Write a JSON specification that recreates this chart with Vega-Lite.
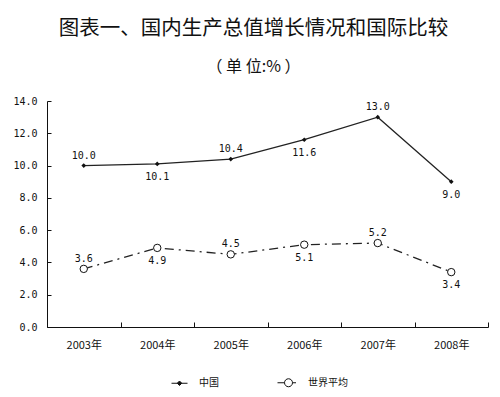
{
  "$schema": "https://vega.github.io/schema/vega-lite/v6.json",
  "width": 441,
  "height": 226,
  "autosize": "none",
  "padding": {"left": 47, "top": 101, "right": 12, "bottom": 70},
  "background": "white",
  "title": {
    "text": "图表一、国内生产总值增长情况和国际比较",
    "subtitle": "（ 单 位:% ）",
    "font": "Noto Sans CJK SC",
    "fontSize": 20.5,
    "fontWeight": "normal",
    "color": "#111",
    "subtitleFont": "Noto Sans CJK SC",
    "subtitleFontSize": 16,
    "subtitleColor": "#111",
    "subtitlePadding": 20,
    "offset": 21,
    "anchor": "middle",
    "dx": -14
  },
  "data": {
    "values": [
      {"year": "2003年", "series": "中国", "value": 10.0},
      {"year": "2004年", "series": "中国", "value": 10.1},
      {"year": "2005年", "series": "中国", "value": 10.4},
      {"year": "2006年", "series": "中国", "value": 11.6},
      {"year": "2007年", "series": "中国", "value": 13.0},
      {"year": "2008年", "series": "中国", "value": 9.0},
      {"year": "2003年", "series": "世界平均", "value": 3.6},
      {"year": "2004年", "series": "世界平均", "value": 4.9},
      {"year": "2005年", "series": "世界平均", "value": 4.5},
      {"year": "2006年", "series": "世界平均", "value": 5.1},
      {"year": "2007年", "series": "世界平均", "value": 5.2},
      {"year": "2008年", "series": "世界平均", "value": 3.4}
    ]
  },
  "encoding": {
    "x": {
      "field": "year",
      "type": "ordinal",
      "bandPosition": 0.5,
      "scale": {"type": "band", "paddingInner": 0, "paddingOuter": 0},
      "axis": {
        "title": null,
        "labelAngle": 0,
        "tickBand": "extent",
        "tickSize": -5,
        "labelPadding": 17,
        "labelFont": "Noto Sans CJK SC",
        "labelFontSize": 11,
        "labelColor": "#111",
        "domainColor": "#111",
        "tickColor": "#111"
      }
    },
    "y": {
      "field": "value",
      "type": "quantitative",
      "scale": {"domain": [0, 14], "nice": false},
      "axis": {
        "title": null,
        "values": [0, 2, 4, 6, 8, 10, 12, 14],
        "format": ".1f",
        "grid": false,
        "tickSize": -4,
        "labelPadding": 14,
        "labelFont": "DejaVu Sans Mono",
        "labelFontSize": 10,
        "labelColor": "#111",
        "domainColor": "#111",
        "tickColor": "#111"
      }
    }
  },
  "layer": [
    {
      "transform": [{"filter": "datum.series === '中国'"}],
      "mark": {"type": "line", "color": "#222", "strokeWidth": 1.3},
      "encoding": {}
    },
    {
      "transform": [{"filter": "datum.series === '世界平均'"}],
      "mark": {"type": "line", "color": "#222", "strokeWidth": 1.3, "strokeDash": [9, 5, 2, 5]},
      "encoding": {}
    },
    {
      "mark": {"type": "point", "filled": false, "stroke": "#111", "strokeWidth": 1, "opacity": 0},
      "encoding": {
        "shape": {
          "field": "series",
          "type": "nominal",
          "scale": {
            "domain": ["中国", "世界平均"],
            "range": [
              "M-1.6,0L1.6,0M0,-0.45L0.45,0L0,0.45L-0.45,0Z",
              "M-2.2,0L-0.8,0M0.8,0L1.5,0M-0.8,0A0.8,0.8 0 1,0 0.8,0A0.8,0.8 0 1,0 -0.8,0Z"
            ]
          },
          "legend": {
            "title": null,
            "orient": "none",
            "legendX": 127,
            "legendY": 276,
            "direction": "horizontal",
            "columnPadding": 56,
            "symbolSize": 100,
            "symbolOpacity": 1,
            "symbolStrokeColor": "#111",
            "symbolStrokeWidth": 1,
            "labelOffset": 14,
            "labelFont": "Noto Sans CJK SC",
            "labelFontSize": 10,
            "labelColor": "#111",
            "encode": {
              "symbols": {
                "update": {
                  "stroke": {"value": "#111"},
                  "strokeWidth": {"value": 1},
                  "opacity": {"value": 1}
                }
              }
            }
          }
        },
        "fill": {
          "field": "series",
          "type": "nominal",
          "scale": {"domain": ["中国", "世界平均"], "range": ["#111", "white"]},
          "legend": {
            "title": null,
            "orient": "none",
            "legendX": 127,
            "legendY": 276,
            "direction": "horizontal",
            "columnPadding": 56,
            "symbolSize": 100,
            "symbolOpacity": 1,
            "symbolStrokeColor": "#111",
            "symbolStrokeWidth": 1,
            "labelOffset": 14,
            "labelFont": "Noto Sans CJK SC",
            "labelFontSize": 10,
            "labelColor": "#111",
            "encode": {
              "symbols": {
                "update": {
                  "stroke": {"value": "#111"},
                  "strokeWidth": {"value": 1},
                  "opacity": {"value": 1}
                }
              }
            }
          }
        }
      }
    },
    {
      "transform": [{"filter": "datum.series === '中国'"}],
      "mark": {"type": "point", "shape": "diamond", "filled": true, "color": "#111", "size": 22, "opacity": 1}
    },
    {
      "transform": [{"filter": "datum.series === '世界平均'"}],
      "mark": {"type": "point", "shape": "circle", "filled": true, "fill": "white", "stroke": "#111", "strokeWidth": 1, "size": 55, "opacity": 1}
    },
    {
      "transform": [{"filter": "indexof(['2003年','2005年','2007年'], datum.year) >= 0"}],
      "mark": {"type": "text", "dy": -10, "font": "DejaVu Sans Mono", "fontSize": 10, "color": "#111"},
      "encoding": {"text": {"field": "value", "type": "quantitative", "format": ".1f"}}
    },
    {
      "transform": [{"filter": "indexof(['2003年','2005年','2007年'], datum.year) < 0"}],
      "mark": {"type": "text", "dy": 13, "font": "DejaVu Sans Mono", "fontSize": 10, "color": "#111"},
      "encoding": {"text": {"field": "value", "type": "quantitative", "format": ".1f"}}
    }
  ],
  "config": {
    "view": {"stroke": null},
    "axis": {"grid": false}
  }
}
